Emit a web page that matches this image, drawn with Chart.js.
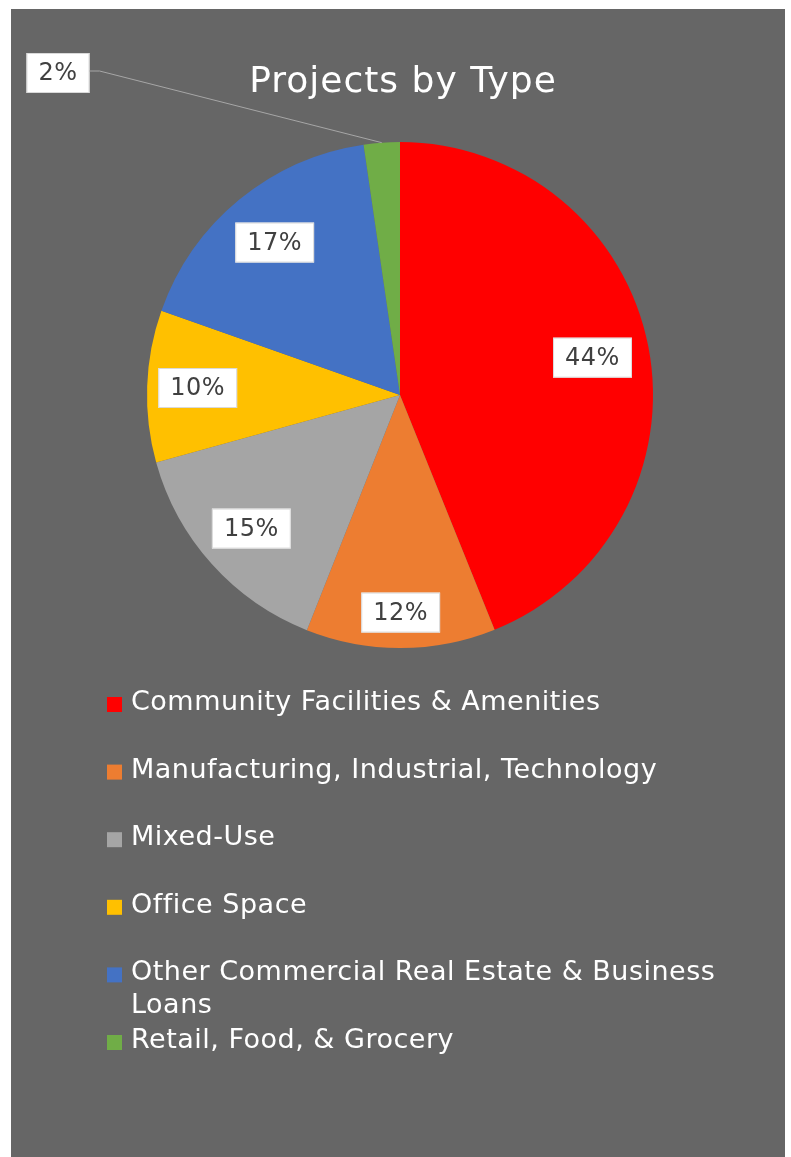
<!DOCTYPE html>
<html>
<head>
<meta charset="utf-8">
<title>Projects by Type</title>
<script src="https://cdn.jsdelivr.net/npm/chart.js@4/dist/chart.umd.min.js"></script>
<style>
    body { margin: 0; background: #ffffff; }
    #pie-chart { display: block; }
</style>
</head>
<body>
<canvas id="pie-chart" width="791" height="1157"></canvas>
<script>
// Data
const categories = [
    'Community Facilities & Amenities',
    'Manufacturing, Industrial, Technology',
    'Mixed-Use',
    'Office Space',
    'Other Commercial Real Estate & Business Loans',
    'Retail, Food, & Grocery'
];
const shares = [43.9, 12.1, 14.7, 9.7, 17.3, 2.3];
const sliceColors = ['#FF0000', '#ED7D31', '#A5A5A5', '#FFC000', '#4472C4', '#70AD47'];
const chartTitle = 'Projects by Type';

// where each label box sits, as a fraction of the radius
const labelRadius = [0.775, 0.86, 0.79, 0.80, 0.78, 1];

const LABEL_FONT = '24px "DejaVu Sans"';
const LEGEND_FONT = '27px "DejaVu Sans"';

// White page + gray chart panel
const panelBg = {
    id: 'panelBg',
    beforeDraw(chart) {
        const ctx = chart.ctx;
        ctx.save();
        ctx.fillStyle = '#ffffff';
        ctx.fillRect(0, 0, chart.width, chart.height);
        ctx.fillStyle = '#666666';
        ctx.fillRect(11, 9, 774, chart.height - 9);
        ctx.restore();
    }
};

// Title at the top
const titlePlugin = {
    id: 'titlePlugin',
    afterDraw(chart) {
        const ctx = chart.ctx;
        ctx.save();
        ctx.fillStyle = '#ffffff';
        ctx.font = '36px "DejaVu Sans"';
        ctx.letterSpacing = '1px';
        ctx.textAlign = 'center';
        ctx.textBaseline = 'alphabetic';
        ctx.fillText(chartTitle, 403, 92);
        ctx.restore();
    }
};

function drawBox(ctx, text, cx, cy) {
    ctx.font = LABEL_FONT;
    ctx.letterSpacing = '0.5px';
    const w = ctx.measureText(text).width + 24;
    const h = 40;
    ctx.fillStyle = '#ffffff';
    ctx.fillRect(cx - w / 2, cy - h / 2, w, h);
    ctx.strokeStyle = '#D9D9D9';
    ctx.lineWidth = 1;
    ctx.strokeRect(cx - w / 2 + 0.5, cy - h / 2 + 0.5, w - 1, h - 1);
    ctx.fillStyle = '#404040';
    ctx.textAlign = 'center';
    ctx.textBaseline = 'middle';
    ctx.fillText(text, cx, cy + 1);
    return w;
}

// Percent labels in white boxes
const sliceLabels = {
    id: 'sliceLabels',
    afterDatasetsDraw(chart) {
        const ctx = chart.ctx;
        const meta = chart.getDatasetMeta(0);
        const total = shares.reduce((a, b) => a + b, 0);
        ctx.save();
        meta.data.forEach((arc, i) => {
            const p = arc.getProps(['x', 'y', 'startAngle', 'endAngle', 'outerRadius'], true);
            const mid = (p.startAngle + p.endAngle) / 2;
            const text = Math.round(shares[i] / total * 100) + '%';
            if (shares[i] / total < 0.05) {
                // small slice: label outside with leader line
                const bx = 58, by = 73;
                const w = drawBox(ctx, text, bx, by);
                const ex = p.x + Math.cos(mid) * p.outerRadius;
                const ey = p.y + Math.sin(mid) * p.outerRadius;
                ctx.strokeStyle = '#A6A6A6';
                ctx.lineWidth = 1;
                ctx.beginPath();
                ctx.moveTo(bx + w / 2, by - 2);
                ctx.lineTo(bx + w / 2 + 10, by - 2);
                ctx.lineTo(ex, ey);
                ctx.stroke();
            } else {
                const r = p.outerRadius * labelRadius[i];
                drawBox(ctx, text, p.x + Math.cos(mid) * r, p.y + Math.sin(mid) * r);
            }
        });
        ctx.restore();
    }
};

// Legend below the pie
const sideLegend = {
    id: 'sideLegend',
    afterDraw(chart) {
        const ctx = chart.ctx;
        const x0 = 107, textX = 131, maxW = 610;
        let y = 703;
        const step = 67.6;
        ctx.save();
        ctx.font = LEGEND_FONT;
        ctx.letterSpacing = '0.5px';
        ctx.textAlign = 'left';
        ctx.textBaseline = 'middle';
        chart.data.labels.forEach((label, i) => {
            ctx.fillStyle = chart.data.datasets[0].backgroundColor[i];
            ctx.fillRect(x0, y - 6, 15, 15);
            ctx.fillStyle = '#ffffff';
            // wrap long labels
            const words = label.split(' ');
            let line = '';
            let ly = y;
            words.forEach(wd => {
                const test = line ? line + ' ' + wd : wd;
                if (ctx.measureText(test).width > maxW && line) {
                    ctx.fillText(line, textX, ly);
                    line = wd;
                    ly += 33;
                } else {
                    line = test;
                }
            });
            ctx.fillText(line, textX, ly);
            y += step;
        });
        ctx.restore();
    }
};

const pieChart = document.getElementById('pie-chart');

new Chart(pieChart, {
    type: 'pie',
    data: {
        labels: categories,
        datasets: [{
            data: shares,
            backgroundColor: sliceColors,
            borderWidth: 0
        }]
    },
    options: {
        responsive: false,
        animation: false,
        layout: {
            padding: { top: 142, bottom: 509, left: 147, right: 138 }
        },
        plugins: {
            legend: { display: false },
            title: { display: false },
            tooltip: { enabled: false }
        }
    },
    plugins: [panelBg, sliceLabels, titlePlugin, sideLegend]
});
</script>
</body>
</html>
